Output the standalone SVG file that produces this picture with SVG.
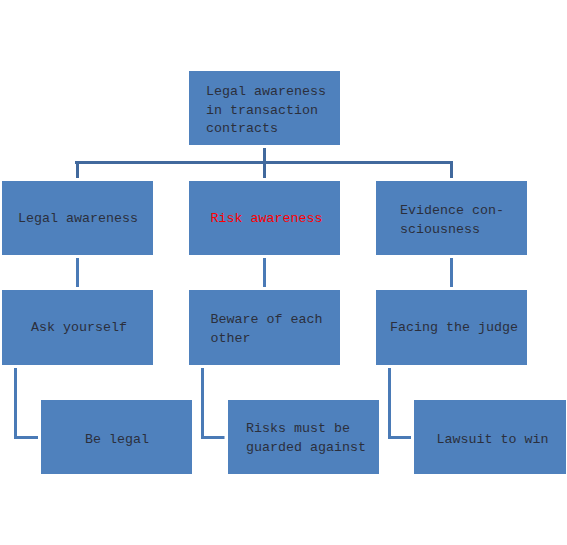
<svg xmlns="http://www.w3.org/2000/svg" width="567" height="545" viewBox="0 0 567 545">
<style>
.box{fill:#4F81BD;}
.t{font-family:"Liberation Mono","DejaVu Sans Mono",monospace;font-size:13.33px;fill:#2B2F3C;}
.red{fill:#FF0000;}
.c{stroke:#41699D;stroke-width:3;fill:none;}
.c2{stroke:#4A7AB6;stroke-width:3;fill:none;}
</style>
<rect width="567" height="545" fill="#FFFFFF"/>
<g id="connectors">
<line class="c" x1="264.5" y1="148" x2="264.5" y2="178"/>
<line class="c" x1="75" y1="162.5" x2="453" y2="162.5"/>
<line class="c" x1="77.5" y1="162" x2="77.5" y2="178"/>
<line class="c" x1="451.5" y1="162" x2="451.5" y2="178"/>
<line class="c2" x1="77.5" y1="258" x2="77.5" y2="287"/>
<line class="c2" x1="264.5" y1="258" x2="264.5" y2="287"/>
<line class="c2" x1="451.5" y1="258" x2="451.5" y2="287"/>
<polyline class="c2" points="15.5,368 15.5,437.5 38,437.5"/>
<polyline class="c2" points="202.5,368 202.5,437.5 224.5,437.5"/>
<polyline class="c2" points="389.5,368 389.5,437.5 411,437.5"/>
</g>
<g id="root">
<rect class="box" x="189" y="71" width="151" height="74"/>
<text class="t" x="206" y="95">Legal awareness</text>
<text class="t" x="206" y="113.5">in transaction</text>
<text class="t" x="206" y="132">contracts</text>
</g>
<g id="legal">
<rect class="box" x="2" y="181" width="151" height="74"/>
<text class="t" x="18" y="222">Legal awareness</text>
</g>
<g id="risk">
<rect class="box" x="189" y="181" width="151" height="74"/>
<text class="t red" x="210.5" y="222">Risk awareness</text>
</g>
<g id="evidence">
<rect class="box" x="376" y="181" width="151" height="74"/>
<text class="t" x="400" y="214">Evidence con-</text>
<text class="t" x="400" y="232.5">sciousness</text>
</g>
<g id="ask">
<rect class="box" x="2" y="290" width="151" height="75"/>
<text class="t" x="31" y="331">Ask yourself</text>
</g>
<g id="beware">
<rect class="box" x="189" y="290" width="151" height="75"/>
<text class="t" x="210.5" y="322.5">Beware of each</text>
<text class="t" x="210.5" y="342">other</text>
</g>
<g id="facing">
<rect class="box" x="376" y="290" width="151" height="75"/>
<text class="t" x="390" y="331">Facing the judge</text>
</g>
<g id="belegal">
<rect class="box" x="41" y="400" width="151" height="74"/>
<text class="t" x="85" y="442.5">Be legal</text>
</g>
<g id="risks">
<rect class="box" x="228" y="400" width="151" height="74"/>
<text class="t" x="246" y="431.5">Risks must be</text>
<text class="t" x="246" y="450.5">guarded against</text>
</g>
<g id="lawsuit">
<rect class="box" x="414" y="400" width="152" height="74"/>
<text class="t" x="436.5" y="442.5">Lawsuit to win</text>
</g>
</svg>
